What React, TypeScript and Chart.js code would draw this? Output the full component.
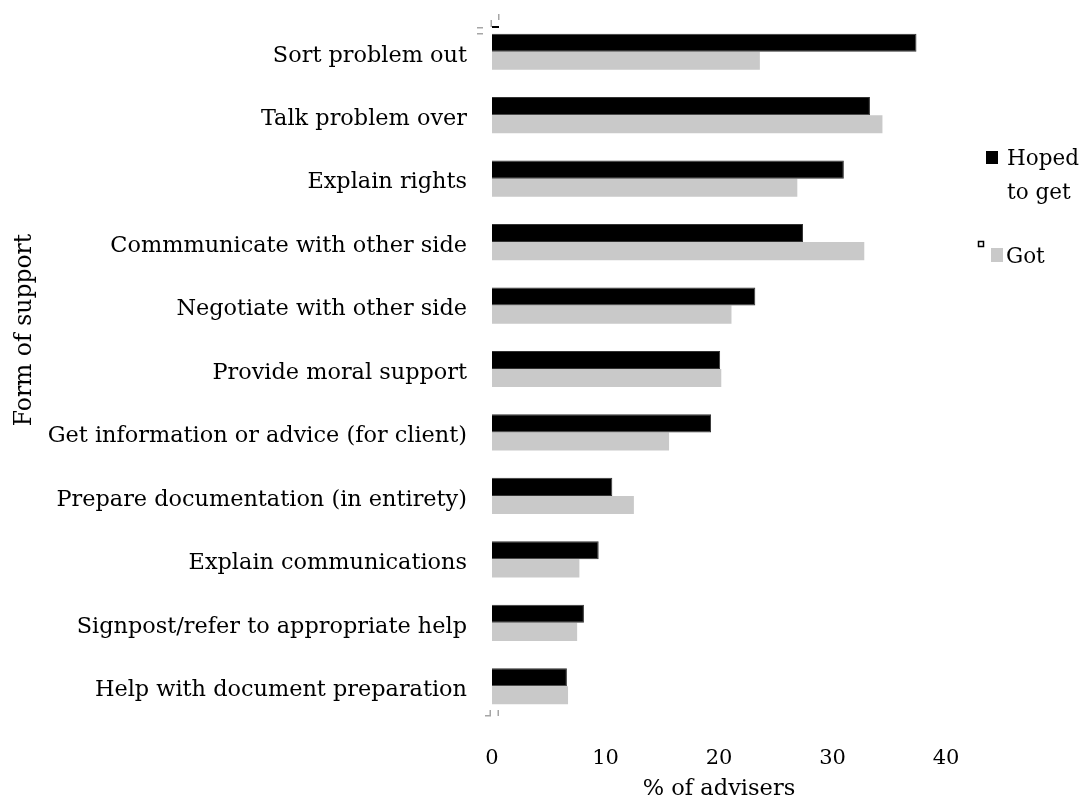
import React, { useEffect, useRef } from "react";
import { Chart, registerables } from "chart.js";

Chart.register(...registerables);

const categories = [
  "Sort problem out",
  "Talk problem over",
  "Explain rights",
  "Commmunicate with other side",
  "Negotiate with other side",
  "Provide moral support",
  "Get information or advice (for client)",
  "Prepare documentation (in entirety)",
  "Explain communications",
  "Signpost/refer to appropriate help",
  "Help with document preparation",
];

const hopedToGet = [37.4, 33.3, 31.0, 27.4, 23.2, 20.1, 19.3, 10.6, 9.4, 8.1, 6.6];
const got = [23.6, 34.4, 26.9, 32.8, 21.1, 20.2, 15.6, 12.5, 7.7, 7.5, 6.7];

const xTicks = [0, 10, 20, 30, 40];

const FONT = "'DejaVu Serif', serif";
const BLACK = "#000000";
const GREY = "#C9C9C9";
const HANDLE = "#A6A6A6";

// Vertical axis title, legend on the right, and the small corner handles
// around the plot area.
const decorations = {
  id: "decorations",
  afterDraw(chart: any) {
    const ctx = chart.ctx;
    const { left, top, right, bottom } = chart.chartArea;
    ctx.save();

    // axis title
    ctx.font = `23.5px ${FONT}`;
    ctx.fillStyle = BLACK;
    ctx.textAlign = "center";
    ctx.textBaseline = "middle";
    ctx.translate(25, 330);
    ctx.rotate(-Math.PI / 2);
    ctx.fillText("Form of support", 0, 0);
    ctx.setTransform(1, 0, 0, 1, 0, 0);

    // legend
    const x = right + 40;
    ctx.font = `21.5px ${FONT}`;
    ctx.textAlign = "left";
    ctx.fillStyle = BLACK;
    ctx.fillRect(x, 151, 12, 13);
    ctx.fillText("Hoped", x + 21, 159);
    ctx.fillText("to get", x + 21, 193);
    ctx.fillStyle = GREY;
    ctx.fillRect(x + 5, 248, 12, 14);
    ctx.fillStyle = BLACK;
    ctx.fillText("Got", x + 20, 257);
    ctx.strokeStyle = BLACK;
    ctx.lineWidth = 1.5;
    ctx.strokeRect(x - 7.5, 241.5, 5, 5);

    // corner handles
    ctx.fillStyle = HANDLE;
    ctx.fillRect(left - 15, top + 7, 6, 1.5);
    ctx.fillRect(left - 15, top + 13, 6, 1.5);
    ctx.fillRect(left - 1.5, top, 1.5, 7);
    ctx.fillRect(left + 6, top - 6, 1.5, 6);
    ctx.fillStyle = BLACK;
    ctx.fillRect(left, top + 6, 7, 2);
    ctx.fillStyle = HANDLE;
    ctx.fillRect(left - 2.5, bottom - 8, 1.5, 6);
    ctx.fillRect(left - 7, bottom - 3, 6, 1.5);
    ctx.fillRect(left + 5.5, bottom - 8, 1.5, 6);
    ctx.restore();
  },
};

export default function App() {
  const ref = useRef<HTMLCanvasElement>(null);

  useEffect(() => {
    if (!ref.current) return;
    const chart = new Chart(ref.current, {
      type: "bar",
      data: {
        labels: categories,
        datasets: [
          {
            label: "Hoped to get",
            data: hopedToGet,
            backgroundColor: BLACK,
            borderColor: "#333333",
            borderWidth: 1,
            categoryPercentage: 0.57,
            barPercentage: 1,
          },
          {
            label: "Got",
            data: got,
            backgroundColor: GREY,
            borderWidth: 0,
            categoryPercentage: 0.57,
            barPercentage: 1,
          },
        ],
      },
      options: {
        indexAxis: "y",
        animation: false,
        responsive: false,
        layout: { padding: { top: 20, right: 138, left: 0, bottom: 0 } },
        plugins: {
          legend: { display: false },
          tooltip: { enabled: false },
        },
        scales: {
          x: {
            min: 0,
            max: 40,
            afterBuildTicks: (scale: any) => {
              scale.ticks = xTicks.map((v) => ({ value: v }));
            },
            afterFit: (scale: any) => {
              scale.height = 87;
              scale.paddingLeft = 0;
              scale.paddingRight = 0;
            },
            grid: { display: false, drawTicks: false },
            border: { display: false },
            ticks: {
              padding: 28,
              color: BLACK,
              font: { family: FONT, size: 21 },
            },
            title: {
              display: true,
              text: "% of advisers",
              color: BLACK,
              font: { family: FONT, size: 22.5 },
              padding: { top: 0, bottom: 2 },
            },
          },
          y: {
            afterFit: (scale: any) => {
              scale.width = 492;
              scale.paddingTop = 0;
              scale.paddingBottom = 0;
            },
            grid: { display: false, drawTicks: false },
            border: { display: false },
            ticks: {
              padding: 25,
              labelOffset: 4,
              color: BLACK,
              font: { family: FONT, size: 22.4 },
            },
            title: { display: false },
          },
        },
      },
      plugins: [decorations],
    });
    return () => chart.destroy();
  }, []);

  return (
    <div style={{ position: "fixed", left: 0, top: 0, width: 1084, height: 805, background: "#fff" }}>
      <canvas ref={ref} width={1084} height={805} />
    </div>
  );
}
